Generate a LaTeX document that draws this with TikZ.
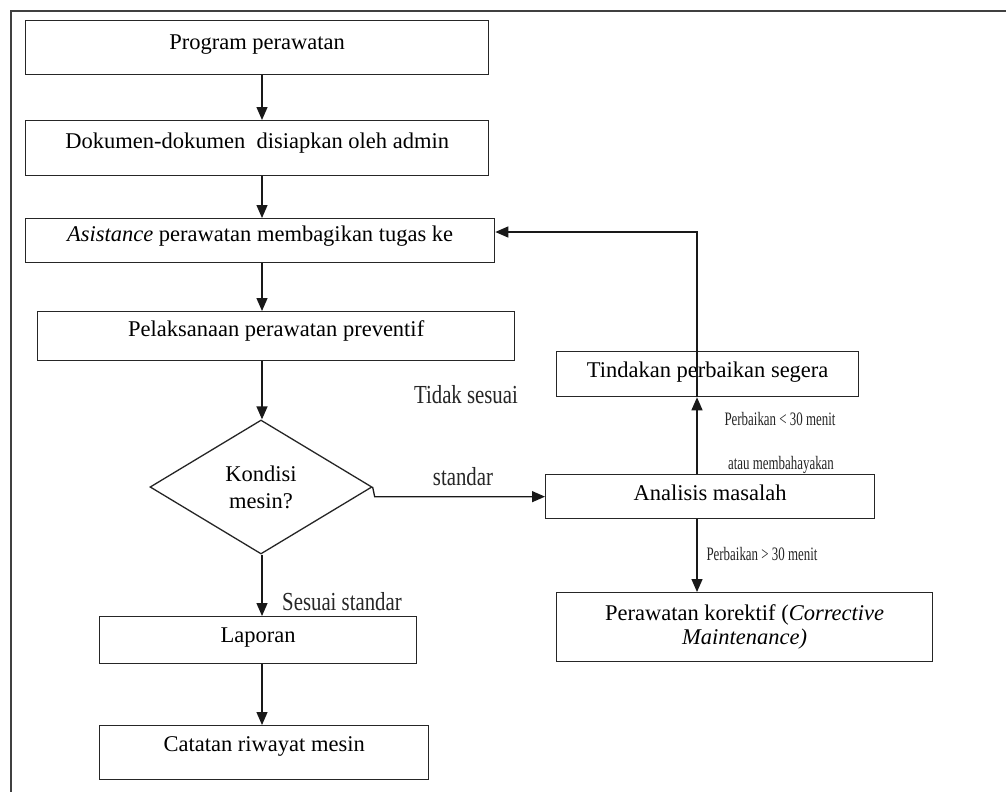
\documentclass[tikz,border=0pt]{standalone}
\usepackage{fontspec}
\setmainfont{Liberation Serif}
\newfontfamily\condfont[FakeStretch=0.8]{Liberation Serif}
\newfontfamily\narrowfont[FakeStretch=0.68]{Liberation Serif}
\usetikzlibrary{arrows.meta,shapes.geometric}
\begin{document}
\begin{tikzpicture}[x=1pt,y=-1pt,
  box/.style={draw=black!85,line width=1.3pt,inner sep=0pt,anchor=north west,
    font=\fontsize{22.5}{26}\selectfont},
  arr/.style={draw=black!90,line width=1.3pt,-{Triangle[length=13pt,width=11pt]}},
  lbl/.style={anchor=base,inner sep=0pt,font=\condfont\fontsize{26}{28}\selectfont,text=black!85},
  slbl/.style={anchor=base,inner sep=0pt,font=\narrowfont\fontsize{19}{21}\selectfont,text=black!85}]
\useasboundingbox (0,0) rectangle (1006,792);
\fill[white] (0,0) rectangle (1006,792);
% frame
\draw[line width=2.2pt,draw=black!75] (1006,11) -- (11,11) -- (11,792);

% boxes
\node[box,minimum width=463pt,minimum height=54pt,text height=29pt,text depth=25pt] (b1) at (25,20) {Program perawatan};
\node[box,minimum width=463pt,minimum height=55pt,text height=28pt,text depth=27pt] (b2) at (25,120) {Dokumen-dokumen\ \ disiapkan oleh admin};
\node[box,minimum width=469pt,minimum height=44pt,text height=23pt,text depth=21pt] (b3) at (25,218) {\textit{Asistance} perawatan membagikan tugas ke};
\node[box,minimum width=477pt,minimum height=49pt,text height=25pt,text depth=24pt] (b4) at (37,311) {Pelaksanaan perawatan preventif};
\node[draw=black!85,line width=1.3pt,diamond,aspect=1.66,minimum width=222pt,minimum height=134pt,inner sep=0pt,align=center,
  font=\fontsize{22.5}{27}\selectfont] (d) at (261,487) {Kondisi\\mesin?};
\node[box,minimum width=317pt,minimum height=47pt,text height=26pt,text depth=21pt] (lap) at (99,616) {Laporan};
\node[box,minimum width=329pt,minimum height=54pt,text height=26pt,text depth=28pt] (cat) at (99,725) {Catatan riwayat mesin};
\node[box,minimum width=302pt,minimum height=45pt,text height=26pt,text depth=19pt] (tind) at (556,351) {Tindakan perbaikan segera};
\node[box,minimum width=329pt,minimum height=44pt,text height=26pt,text depth=18pt] (an) at (545,474) {Analisis masalah};
\node[box,minimum width=376pt,minimum height=69pt,align=center,font=\fontsize{22.5}{24}\selectfont] (kor) at (556,592) {Perawatan korektif (\textit{Corrective}\\\textit{Maintenance)}};

% labels
\node[lbl] (l1) at (466,403) {Tidak sesuai};
\node[lbl] (l2) at (463,485) {standar};
\node[lbl] (l3) at (342,610) {Sesuai standar};
\node[slbl] (l4) at (780,425) {Perbaikan < 30 menit};
\node[slbl] (l5) at (781,469) {atau membahayakan};
\node[slbl] (l6) at (762,560) {Perbaikan > 30 menit};

% helper coordinates
\coordinate (cx) at (262,0);
\coordinate (lx) at (697,0);
\coordinate (ly) at (0,232);
\coordinate (dr) at ([xshift=2pt]d.east);

% connectors
\draw[arr] (b1.south -| cx) -- (b2.north -| cx);
\draw[arr] (b2.south -| cx) -- (b3.north -| cx);
\draw[arr] (b3.south -| cx) -- (b4.north -| cx);
\draw[arr] (b4.south -| cx) -- (d.north -| cx);
\draw[arr] (d.south -| cx) -- (lap.north -| cx);
\draw[arr] (lap.south -| cx) -- (cat.north -| cx);
\draw[arr] (d.east) -- (dr |- an.west) -- (an.west);
\draw[arr] (an.north -| lx) -- (tind.south -| lx);
\draw[arr] (tind.south -| lx) -- (lx |- ly) -- (b3.east |- ly);
\draw[arr] (an.south -| lx) -- (kor.north -| lx);
\end{tikzpicture}
\end{document}
